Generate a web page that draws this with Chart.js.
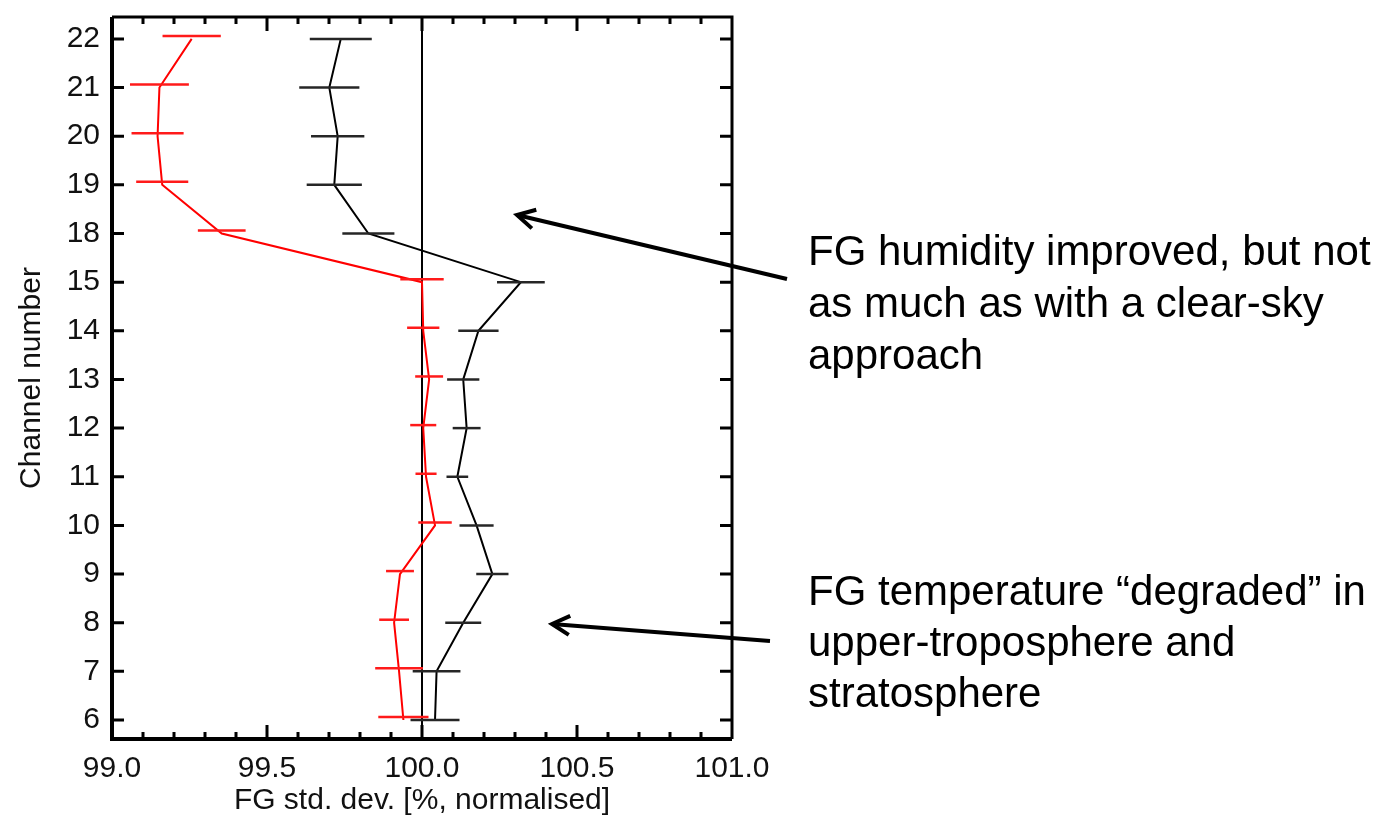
<!DOCTYPE html>
<html>
<head>
<meta charset="utf-8">
<script src="https://cdn.jsdelivr.net/npm/chart.js@4"></script>
<style>
  html, body { margin: 0; padding: 0; background: #fff; }
  #wrap { width: 1392px; height: 821px; }
</style>
</head>
<body>
<div id="wrap"><canvas id="fgChart" width="1392" height="821"></canvas></div>
<script>
// channel numbers, bottom to top
const channels = ['6', '7', '8', '9', '10', '11', '12', '13', '14', '15', '18', '19', '20', '21', '22'];

// red series: FG std. dev. [%] and half-width of the error bar
const redValues = [99.94, 99.926, 99.91, 99.929, 100.042, 100.013, 100.004, 100.023, 100.004, 100.0, 99.354, 99.162, 99.147, 99.153, 99.257];
const redErrors = [0.081, 0.077, 0.048, 0.045, 0.054, 0.034, 0.042, 0.045, 0.052, 0.070, 0.077, 0.084, 0.084, 0.095, 0.094];

// black series
const blackValues = [100.042, 100.047, 100.133, 100.227, 100.176, 100.114, 100.144, 100.133, 100.182, 100.319, 99.827, 99.717, 99.728, 99.701, 99.738];
const blackErrors = [0.079, 0.077, 0.058, 0.052, 0.055, 0.035, 0.045, 0.052, 0.065, 0.077, 0.084, 0.089, 0.086, 0.097, 0.100];

const xTickLabels = ['99.0', '99.5', '100.0', '100.5', '101.0'];
const referenceValue = 100.0;

const FONT = '"Liberation Sans", Arial, Helvetica, sans-serif';

const toPoints = (vals) => vals.map((v, i) => ({ x: v, y: i }));

// error bars, reference line, axis frame, ticks and the two notes
const decorations = {
    id: 'decorations',
    beforeDatasetsDraw(chart) {
        const { ctx, chartArea, scales } = chart;
        const x = scales.x.getPixelForValue(referenceValue);
        ctx.save();
        ctx.strokeStyle = '#000';
        ctx.lineWidth = 2;
        ctx.beginPath();
        ctx.moveTo(x, chartArea.top);
        ctx.lineTo(x, chartArea.bottom);
        ctx.stroke();
        ctx.restore();
    },
    afterDatasetsDraw(chart) {
        const { ctx, scales } = chart;
        const sets = [
            { vals: redValues, errs: redErrors, color: '#ff1a1a', dy: -3 },
            { vals: blackValues, errs: blackErrors, color: '#262626', dy: 0 }
        ];
        ctx.save();
        ctx.lineWidth = 2.5;
        sets.forEach(s => {
            ctx.strokeStyle = s.color;
            s.vals.forEach((v, i) => {
                const y = scales.y.getPixelForValue(i) + s.dy;
                ctx.beginPath();
                ctx.moveTo(scales.x.getPixelForValue(v - s.errs[i]), y);
                ctx.lineTo(scales.x.getPixelForValue(v + s.errs[i]), y);
                ctx.stroke();
            });
        });
        ctx.restore();
    },
    afterDraw(chart) {
        const { ctx, chartArea: a, scales } = chart;
        ctx.save();
        ctx.strokeStyle = '#000';
        ctx.lineCap = 'butt';

        // frame
        ctx.lineWidth = 4;
        ctx.beginPath();
        ctx.moveTo(a.left, a.top);
        ctx.lineTo(a.left, a.bottom);
        ctx.lineTo(a.right, a.bottom);
        ctx.stroke();
        ctx.lineWidth = 3;
        ctx.beginPath();
        ctx.moveTo(a.left, a.top);
        ctx.lineTo(a.right, a.top);
        ctx.lineTo(a.right, a.bottom);
        ctx.stroke();

        // x ticks, minor every 0.1, major every 0.5
        ctx.lineWidth = 3;
        for (let i = 1; i < 20; i++) {
            const px = scales.x.getPixelForValue(99 + i * 0.1);
            const len = i % 5 === 0 ? 14 : 7;
            ctx.beginPath();
            ctx.moveTo(px, a.bottom);
            ctx.lineTo(px, a.bottom - len);
            ctx.moveTo(px, a.top);
            ctx.lineTo(px, a.top + len);
            ctx.stroke();
        }
        // y ticks at each channel
        channels.forEach((c, i) => {
            const py = scales.y.getPixelForValue(i);
            ctx.beginPath();
            ctx.moveTo(a.left, py);
            ctx.lineTo(a.left + 12, py);
            ctx.moveTo(a.right, py);
            ctx.lineTo(a.right - 12, py);
            ctx.stroke();
        });

        // notes and arrows
        ctx.fillStyle = '#000';
        ctx.font = '42px ' + FONT;
        ctx.textBaseline = 'alphabetic';
        ctx.textAlign = 'left';
        const note1 = ['FG humidity improved, but not', 'as much as with a clear-sky', 'approach'];
        const note2 = ['FG temperature \u201cdegraded\u201d in', 'upper-troposphere and', 'stratosphere'];
        note1.forEach((t, i) => ctx.fillText(t, 808, 265 + i * 52));
        note2.forEach((t, i) => ctx.fillText(t, 808, 605 + i * 51));

        const arrow = (x1, y1, x2, y2) => {
            ctx.lineWidth = 4;
            ctx.beginPath();
            ctx.moveTo(x1, y1);
            ctx.lineTo(x2, y2);
            ctx.stroke();
            const ang = Math.atan2(y2 - y1, x2 - x1);
            const L = 20;
            ctx.beginPath();
            ctx.moveTo(x2 - L * Math.cos(ang - 0.5), y2 - L * Math.sin(ang - 0.5));
            ctx.lineTo(x2, y2);
            ctx.lineTo(x2 - L * Math.cos(ang + 0.5), y2 - L * Math.sin(ang + 0.5));
            ctx.stroke();
        };
        arrow(787, 279, 517, 215);
        arrow(770, 641, 552, 624);
        ctx.restore();
    }
};

Chart.defaults.font.family = FONT;
Chart.defaults.color = '#111';

new Chart(document.getElementById('fgChart').getContext('2d'), {
    type: 'scatter',
    data: {
        datasets: [
            {
                label: 'red',
                data: toPoints(redValues),
                showLine: true,
                borderColor: '#ff0000',
                borderWidth: 2,
                pointRadius: 0,
                tension: 0
            },
            {
                label: 'black',
                data: toPoints(blackValues),
                showLine: true,
                borderColor: '#000',
                borderWidth: 2,
                pointRadius: 0,
                tension: 0
            }
        ]
    },
    options: {
        responsive: false,
        animation: false,
        layout: { padding: { left: 0, right: 660, top: 17, bottom: 0 } },
        plugins: {
            legend: { display: false },
            tooltip: { enabled: false }
        },
        scales: {
            x: {
                type: 'linear',
                min: 99,
                max: 101,
                afterFit: (s) => { s.height = 82; s.paddingLeft = 0; s.paddingRight = 0; },
                grid: { display: false, drawTicks: false },
                border: { display: false },
                ticks: {
                    stepSize: 0.5,
                    padding: 12,
                    font: { size: 30 },
                    color: '#111',
                    maxRotation: 0,
                    callback: (v) => {
                        const i = Math.round((v - 99) / 0.5);
                        return Math.abs(99 + i * 0.5 - v) < 1e-6 ? xTickLabels[i] : null;
                    }
                },
                title: {
                    display: true,
                    text: 'FG std. dev. [%, normalised]',
                    font: { size: 30 },
                    color: '#111',
                    padding: { top: 0, bottom: 2 }
                }
            },
            y: {
                type: 'linear',
                min: -0.39,
                max: 14.45,
                afterFit: (s) => { s.width = 112; s.paddingTop = 0; s.paddingBottom = 0; },
                grid: { display: false, drawTicks: false },
                border: { display: false },
                ticks: {
                    stepSize: 1,
                    includeBounds: false,
                    padding: 12,
                    font: { size: 30 },
                    color: '#111',
                    callback: (v) => Number.isInteger(v) && v >= 0 && v < channels.length ? channels[v] : null
                },
                title: {
                    display: true,
                    text: 'Channel number',
                    font: { size: 30 },
                    color: '#111',
                    padding: { top: 14, bottom: 0 }
                }
            }
        }
    },
    plugins: [decorations]
});
</script>
</body>
</html>
